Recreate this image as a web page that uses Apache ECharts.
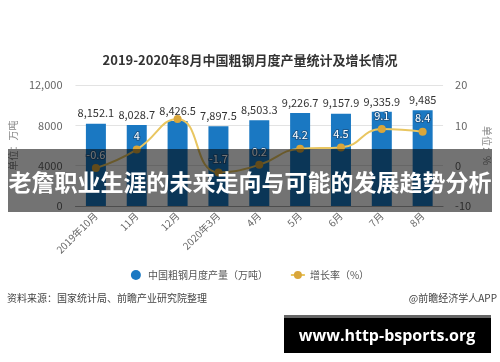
<!DOCTYPE html>
<html><head><meta charset="utf-8">
<script src="https://cdn.jsdelivr.net/npm/echarts@6/dist/echarts.min.js"></script>
<style>html,body{margin:0;padding:0;background:#fff;}#c{width:500px;height:362px;}</style>
</head><body><div id="c"></div>
<script>
const categories = ['2019年10月','11月','12月','2020年3月','4月','5月','6月','7月','8月'];
const output = [8152.1, 8028.7, 8426.5, 7897.5, 8503.3, 9226.7, 9157.9, 9335.9, 9485];
const growth = [-0.6, 4, 11.6, -1.7, 0.2, 4.2, 4.5, 9.1, 8.4];
const growthLabelShown = [true, true, false, true, true, true, true, true, true];
const leftTicks = {0:'0', 4000:'4000', 8000:'8000', 12000:'12,000'};

const FONT = '"Noto Sans CJK SC", "Noto Sans", sans-serif';
const chart = echarts.init(document.getElementById('c'));
chart.setOption({
  backgroundColor: '#fff',
  animation: false,
  textStyle: { fontFamily: FONT },
  title: {
    text: '2019-2020年8月中国粗钢月度产量统计及增长情况',
    left: 'center', top: 49,
    textStyle: { fontSize: 13, fontWeight: 'bold', color: '#333', fontFamily: FONT }
  },
  legend: {
    bottom: 77, left: 'center', itemGap: 22, itemWidth: 14, itemHeight: 10,
    textStyle: { fontSize: 10, color: '#555', fontFamily: FONT },
    data: [
      { name: '中国粗钢月度产量（万吨）', icon: 'circle' },
      { name: '增长率（%）' }
    ]
  },
  grid: { left: 70, right: 52, top: 85, bottom: 156 },
  xAxis: {
    type: 'category', data: categories,
    axisLine: { lineStyle: { color: '#aaa' } },
    axisTick: { alignWithLabel: true, length: 5, lineStyle: { color: '#aaa' } },
    axisLabel: { rotate: 45, fontSize: 10, color: '#666', margin: 8, fontFamily: FONT }
  },
  yAxis: [
    {
      type: 'value', min: 0, max: 12000, interval: 4000,
      name: '单位：万吨', nameLocation: 'middle', nameRotate: 90, nameGap: 50,
      nameTextStyle: { fontSize: 10, color: '#888', fontFamily: FONT },
      axisLabel: { fontSize: 11, color: '#666', margin: 13, formatter: v => leftTicks[v] },
      splitLine: { lineStyle: { color: '#e3e3e3' } },
      axisLine: { show: false }, axisTick: { show: false }
    },
    {
      type: 'value', min: -10, max: 20, interval: 10,
      name: '单位：%', nameLocation: 'middle', nameRotate: -90, nameGap: 30,
      nameTextStyle: { fontSize: 10, color: '#888', fontFamily: FONT },
      axisLabel: { fontSize: 11, color: '#666', margin: 12 },
      splitLine: { show: false },
      axisLine: { show: false }, axisTick: { show: false }
    }
  ],
  series: [
    {
      name: '中国粗钢月度产量（万吨）', type: 'bar', yAxisIndex: 0,
      data: output, barWidth: 20,
      itemStyle: { color: '#1a78c2' },
      label: {
        show: true, position: 'top', distance: 5, fontSize: 11, color: '#333',
        fontFamily: FONT,
        formatter: p => p.value.toLocaleString('en-US', { maximumFractionDigits: 1 })
      }
    },
    {
      name: '增长率（%）', type: 'line', yAxisIndex: 1, smooth: true,
      data: growth.map((v, i) => ({ value: v, label: { show: growthLabelShown[i] } })),
      symbol: 'circle', symbolSize: 8,
      lineStyle: { color: '#e9c661', width: 2 },
      itemStyle: { color: '#d9a63a' },
      label: {
        show: true, position: 'top', distance: 4, fontSize: 11, color: '#fff',
        textBorderColor: '#1d5a8f', textBorderWidth: 2, fontFamily: FONT
      }
    }
  ],
  graphic: [
    { type: 'text', left: 7, top: 293, style: { text: '资料来源：国家统计局、前瞻产业研究院整理', fontSize: 10, fill: '#444', fontFamily: FONT } },
    { type: 'text', right: 3, top: 293, style: { text: '@前瞻经济学人APP', fontSize: 10, fill: '#444', fontFamily: FONT } },
    { type: 'rect', shape: { x: 8, y: 149, width: 484, height: 63 }, style: { fill: 'rgba(0,0,0,0.55)' }, z: 100 },
    { type: 'text', x: 250, y: 182, z: 101, style: { text: '老詹职业生涯的未来走向与可能的发展趋势分析', fontSize: 23, fontWeight: 'bold', fill: '#fff', align: 'center', verticalAlign: 'middle', fontFamily: FONT } },
    { type: 'rect', shape: { x: 284, y: 315, width: 207, height: 38 }, style: { fill: '#000' }, z: 100 },
    { type: 'rect', shape: { x: 284, y: 315, width: 207, height: 3 }, style: { fill: '#666' }, z: 101 },
    { type: 'text', x: 387, y: 336, z: 102, style: { text: 'www.http-bsports.org', fontSize: 16, fontWeight: 'bold', fill: '#fff', align: 'center', verticalAlign: 'middle', fontFamily: '"Open Sans", "DejaVu Sans", sans-serif' } }
  ]
});
</script>
</body></html>
